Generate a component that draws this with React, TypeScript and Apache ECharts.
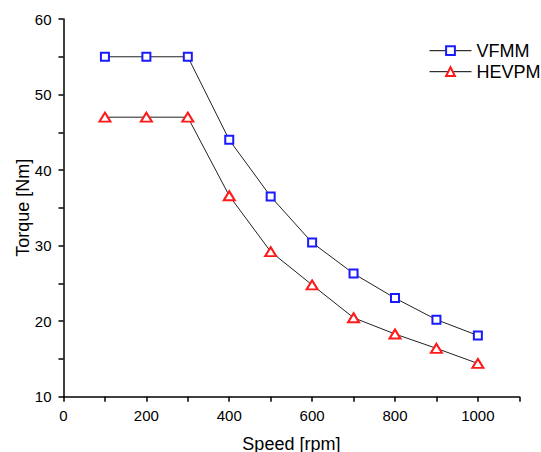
import React, { useEffect, useRef } from "react";
import * as echarts from "echarts";

const speeds = [100, 200, 300, 400, 500, 600, 700, 800, 900, 1000];
const vfmm = [55, 55, 55, 44, 36.5, 30.4, 26.3, 23.05, 20.2, 18.1];
const hevpm = [47, 47, 47, 36.6, 29.2, 24.8, 20.45, 18.3, 16.4, 14.4];
const seriesNames = ["VFMM", "HEVPM"];

const FONT = '"Liberation Sans", Arial, sans-serif';

export default function App() {
  const ref = useRef<HTMLDivElement>(null);
  useEffect(() => {
    if (!ref.current) return;
    const chart = echarts.init(ref.current, undefined, { renderer: "svg" });
    const axisLine = { lineStyle: { color: "#000", width: 1.5 } };
    chart.setOption({
      animation: false,
      backgroundColor: "#fff",
      textStyle: { fontFamily: FONT, color: "#000" },
      grid: {
        left: 63.5,
        top: 19,
        right: 21.7,
        bottom: 55.3,
        containLabel: false,
        outerBoundsMode: "none",
      },
      legend: {
        orient: "vertical",
        left: 429,
        top: 41.7,
        padding: 0,
        itemWidth: 42,
        itemHeight: 11,
        itemGap: 3,
        textStyle: { fontSize: 18, fontFamily: FONT, color: "#000" },
        lineStyle: { color: "#000", width: 1 },
        data: seriesNames,
      },
      xAxis: {
        type: "value",
        min: 0,
        max: 1100,
        interval: 100,
        name: "Speed [rpm]",
        nameLocation: "middle",
        nameGap: 38,
        nameMoveOverlap: false,
        nameTextStyle: { fontSize: 18, fontFamily: FONT, color: "#000" },
        axisLine,
        axisTick: { show: true, length: 5, lineStyle: { color: "#000", width: 1.5 } },
        axisLabel: {
          fontSize: 15,
          fontFamily: FONT,
          color: "#000",
          margin: 11,
          formatter: (v: number) => (v % 200 === 0 && v <= 1000 ? String(v) : ""),
        },
        splitLine: { show: false },
      },
      yAxis: {
        type: "value",
        min: 10,
        max: 60,
        interval: 5,
        name: "Torque [Nm]",
        nameLocation: "middle",
        nameGap: 32,
        nameMoveOverlap: false,
        nameTextStyle: { fontSize: 18, fontFamily: FONT, color: "#000" },
        axisLine,
        axisTick: { show: true, length: 5, lineStyle: { color: "#000", width: 1.5 } },
        axisLabel: {
          fontSize: 15,
          fontFamily: FONT,
          color: "#000",
          margin: 12,
          formatter: (v: number) => (v % 10 === 0 ? String(v) : ""),
        },
        splitLine: { show: false },
      },
      series: [
        {
          name: seriesNames[0],
          type: "line",
          data: speeds.map((s, i) => [s, vfmm[i]]),
          symbol: "emptyRect",
          symbolSize: 8,
          showAllSymbol: true,
          lineStyle: { color: "#222", width: 1 },
          itemStyle: { color: "#1a1aff", borderColor: "#1a1aff", borderWidth: 1.2 },
          z: 3,
        },
        {
          name: seriesNames[1],
          type: "line",
          data: speeds.map((s, i) => [s, hevpm[i]]),
          symbol: "emptyTriangle",
          symbolSize: [11, 9],
          showAllSymbol: true,
          lineStyle: { color: "#222", width: 1 },
          itemStyle: { color: "#ff1a1a", borderColor: "#ff1a1a", borderWidth: 1.2 },
          z: 3,
        },
      ],
    });
    return () => chart.dispose();
  }, []);
  return (
    <div
      ref={ref}
      style={{ position: "absolute", left: 0, top: 0, width: 541, height: 452 }}
    />
  );
}
